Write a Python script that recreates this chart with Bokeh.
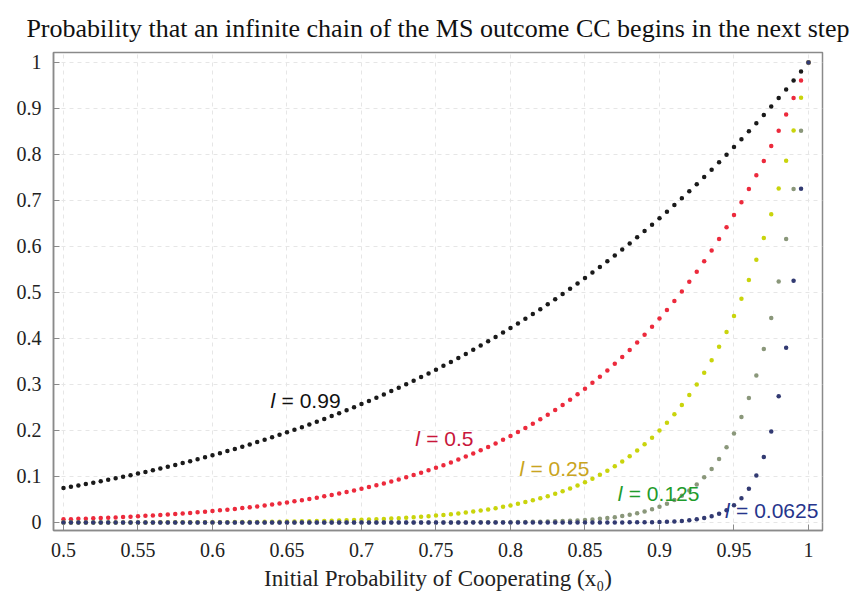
from bokeh.plotting import figure
from bokeh.models import Range1d, FixedTicker, CustomJSTickFormatter
from bokeh.core.properties import value
from bokeh.embed import file_html
from bokeh.resources import INLINE

x0 = [0.500, 0.505, 0.510, 0.515, 0.520, 0.525, 0.530, 0.535, 0.540, 0.545,
      0.550, 0.555, 0.560, 0.565, 0.570, 0.575, 0.580, 0.585, 0.590, 0.595,
      0.600, 0.605, 0.610, 0.615, 0.620, 0.625, 0.630, 0.635, 0.640, 0.645,
      0.650, 0.655, 0.660, 0.665, 0.670, 0.675, 0.680, 0.685, 0.690, 0.695,
      0.700, 0.705, 0.710, 0.715, 0.720, 0.725, 0.730, 0.735, 0.740, 0.745,
      0.750, 0.755, 0.760, 0.765, 0.770, 0.775, 0.780, 0.785, 0.790, 0.795,
      0.800, 0.805, 0.810, 0.815, 0.820, 0.825, 0.830, 0.835, 0.840, 0.845,
      0.850, 0.855, 0.860, 0.865, 0.870, 0.875, 0.880, 0.885, 0.890, 0.895,
      0.900, 0.905, 0.910, 0.915, 0.920, 0.925, 0.930, 0.935, 0.940, 0.945,
      0.950, 0.955, 0.960, 0.965, 0.970, 0.975, 0.980, 0.985, 0.990, 0.995,
      1.000]

l_099 = [0.0750, 0.0778, 0.0806, 0.0836, 0.0866, 0.0897, 0.0928, 0.0961, 0.0994, 0.1028,
         0.1063, 0.1099, 0.1136, 0.1173, 0.1212, 0.1251, 0.1291, 0.1333, 0.1375, 0.1418,
         0.1462, 0.1507, 0.1553, 0.1600, 0.1648, 0.1698, 0.1748, 0.1799, 0.1852, 0.1905,
         0.1960, 0.2016, 0.2073, 0.2131, 0.2191, 0.2251, 0.2313, 0.2377, 0.2441, 0.2507,
         0.2574, 0.2642, 0.2712, 0.2783, 0.2856, 0.2930, 0.3005, 0.3082, 0.3161, 0.3241,
         0.3322, 0.3405, 0.3490, 0.3576, 0.3664, 0.3754, 0.3845, 0.3938, 0.4033, 0.4129,
         0.4227, 0.4327, 0.4429, 0.4533, 0.4638, 0.4746, 0.4855, 0.4967, 0.5081, 0.5196,
         0.5314, 0.5434, 0.5556, 0.5680, 0.5806, 0.5935, 0.6066, 0.6199, 0.6335, 0.6473,
         0.6613, 0.6756, 0.6902, 0.7050, 0.7200, 0.7354, 0.7510, 0.7669, 0.7830, 0.7994,
         0.8161, 0.8331, 0.8504, 0.8680, 0.8859, 0.9041, 0.9226, 0.9415, 0.9606, 0.9802,
         1.0]

l_05 = [0.0068, 0.0073, 0.0079, 0.0084, 0.0090, 0.0097, 0.0104, 0.0111, 0.0118, 0.0126,
        0.0135, 0.0144, 0.0153, 0.0163, 0.0173, 0.0184, 0.0196, 0.0208, 0.0221, 0.0234,
        0.0249, 0.0264, 0.0279, 0.0296, 0.0313, 0.0331, 0.0350, 0.0370, 0.0391, 0.0413,
        0.0436, 0.0460, 0.0485, 0.0511, 0.0539, 0.0568, 0.0598, 0.0629, 0.0662, 0.0696,
        0.0732, 0.0770, 0.0809, 0.0850, 0.0892, 0.0937, 0.0983, 0.1031, 0.1082, 0.1134,
        0.1189, 0.1246, 0.1305, 0.1367, 0.1432, 0.1499, 0.1569, 0.1642, 0.1718, 0.1797,
        0.1879, 0.1965, 0.2054, 0.2146, 0.2243, 0.2343, 0.2448, 0.2556, 0.2669, 0.2787,
        0.2909, 0.3036, 0.3168, 0.3306, 0.3449, 0.3597, 0.3752, 0.3913, 0.4080, 0.4253,
        0.4434, 0.4622, 0.4817, 0.5020, 0.5231, 0.5450, 0.5678, 0.5915, 0.6162, 0.6418,
        0.6684, 0.6961, 0.7249, 0.7548, 0.7859, 0.8182, 0.8518, 0.8867, 0.9230, 0.9608,
        1.0]

l_025 = [0.0000, 0.0001, 0.0001, 0.0001, 0.0001, 0.0001, 0.0001, 0.0001, 0.0001, 0.0002,
         0.0002, 0.0002, 0.0002, 0.0003, 0.0003, 0.0003, 0.0004, 0.0004, 0.0005, 0.0006,
         0.0006, 0.0007, 0.0008, 0.0009, 0.0010, 0.0012, 0.0013, 0.0014, 0.0016, 0.0018,
         0.0020, 0.0022, 0.0025, 0.0028, 0.0031, 0.0034, 0.0038, 0.0042, 0.0047, 0.0052,
         0.0057, 0.0063, 0.0070, 0.0077, 0.0085, 0.0094, 0.0103, 0.0113, 0.0125, 0.0137,
         0.0150, 0.0165, 0.0181, 0.0198, 0.0217, 0.0238, 0.0260, 0.0285, 0.0311, 0.0340,
         0.0372, 0.0406, 0.0443, 0.0483, 0.0526, 0.0573, 0.0625, 0.0680, 0.0740, 0.0805,
         0.0876, 0.0953, 0.1036, 0.1126, 0.1223, 0.1328, 0.1442, 0.1566, 0.1700, 0.1844,
         0.2001, 0.2171, 0.2355, 0.2554, 0.2769, 0.3002, 0.3254, 0.3527, 0.3823, 0.4143,
         0.4489, 0.4864, 0.5271, 0.5710, 0.6187, 0.6703, 0.7261, 0.7866, 0.8521, 0.9231,
         1.0]

l_0125 = [0.0000, 0.0000, 0.0000, 0.0000, 0.0000, 0.0000, 0.0000, 0.0000, 0.0000, 0.0000,
          0.0000, 0.0000, 0.0000, 0.0000, 0.0000, 0.0000, 0.0000, 0.0000, 0.0000, 0.0000,
          0.0000, 0.0000, 0.0000, 0.0000, 0.0000, 0.0000, 0.0000, 0.0000, 0.0000, 0.0000,
          0.0000, 0.0000, 0.0000, 0.0000, 0.0000, 0.0000, 0.0000, 0.0000, 0.0000, 0.0000,
          0.0000, 0.0000, 0.0000, 0.0000, 0.0000, 0.0000, 0.0000, 0.0001, 0.0001, 0.0001,
          0.0001, 0.0001, 0.0002, 0.0002, 0.0002, 0.0003, 0.0004, 0.0004, 0.0005, 0.0006,
          0.0008, 0.0010, 0.0012, 0.0014, 0.0017, 0.0021, 0.0026, 0.0031, 0.0038, 0.0046,
          0.0055, 0.0067, 0.0080, 0.0096, 0.0116, 0.0139, 0.0167, 0.0201, 0.0240, 0.0287,
          0.0343, 0.0410, 0.0489, 0.0583, 0.0694, 0.0825, 0.0981, 0.1164, 0.1381, 0.1636,
          0.1937, 0.2291, 0.2708, 0.3198, 0.3773, 0.4448, 0.5239, 0.6165, 0.7250, 0.8518,
          1.0]

l_00625 = [0.0000, 0.0000, 0.0000, 0.0000, 0.0000, 0.0000, 0.0000, 0.0000, 0.0000, 0.0000,
           0.0000, 0.0000, 0.0000, 0.0000, 0.0000, 0.0000, 0.0000, 0.0000, 0.0000, 0.0000,
           0.0000, 0.0000, 0.0000, 0.0000, 0.0000, 0.0000, 0.0000, 0.0000, 0.0000, 0.0000,
           0.0000, 0.0000, 0.0000, 0.0000, 0.0000, 0.0000, 0.0000, 0.0000, 0.0000, 0.0000,
           0.0000, 0.0000, 0.0000, 0.0000, 0.0000, 0.0000, 0.0000, 0.0000, 0.0000, 0.0000,
           0.0000, 0.0000, 0.0000, 0.0000, 0.0000, 0.0000, 0.0000, 0.0000, 0.0000, 0.0000,
           0.0000, 0.0000, 0.0000, 0.0000, 0.0000, 0.0000, 0.0000, 0.0000, 0.0000, 0.0000,
           0.0000, 0.0000, 0.0001, 0.0001, 0.0001, 0.0002, 0.0003, 0.0004, 0.0006, 0.0008,
           0.0012, 0.0017, 0.0024, 0.0034, 0.0048, 0.0068, 0.0096, 0.0136, 0.0191, 0.0268,
           0.0375, 0.0525, 0.0733, 0.1023, 0.1424, 0.1978, 0.2745, 0.3801, 0.5256, 0.7256,
           1.0]

x_ticks = [0.5, 0.55, 0.6, 0.65, 0.7, 0.75, 0.8, 0.85, 0.9, 0.95, 1.0]
y_ticks = [0.0, 0.1, 0.2, 0.3, 0.4, 0.5, 0.6, 0.7, 0.8, 0.9, 1.0]

series = [
    (l_099, "#1a1a1a"),
    (l_05, "#ec2a3c"),
    (l_025, "#c9d40c"),
    (l_0125, "#8a977a"),
    (l_00625, "#323a72"),
]

labels = [
    ("0.99", 0.639, 0.265, "#111111"),
    ("0.5", 0.736, 0.182, "#c8163a"),
    ("0.25", 0.806, 0.118, "#c9a420"),
    ("0.125", 0.872, 0.064, "#1f9c2c"),
    ("0.0625", 0.944, 0.026, "#26358c"),
]

p = figure(width=858, height=596, output_backend="svg", toolbar_location=None,
           x_range=Range1d(0.4933, 1.0094), y_range=Range1d(-0.0174, 1.0217),
           min_border_left=53, min_border_right=36, min_border_bottom=66,
           min_border_top=52)

p.title.text = "Probability that an infinite chain of the MS outcome CC begins in the next step"
p.title.text_font = "Liberation Serif"
p.title.text_font_size = "26px"
p.title.text_font_style = "normal"
p.title.align = "center"
p.title.text_color = "#111111"
p.title.standoff = 20

fmt = CustomJSTickFormatter(code="""
let s = tick.toFixed(3);
s = s.replace(/0+$/, '').replace(/\\.$/, '');
return s;
""")

for ax, ticks in ((p.xaxis[0], x_ticks), (p.yaxis[0], y_ticks)):
    ax.ticker = FixedTicker(ticks=ticks)
    ax.formatter = fmt
    ax.major_label_text_font = "Liberation Serif"
    ax.major_label_text_font_size = "20px"
    ax.major_label_text_color = "#222222"
    ax.major_tick_in = 6
    ax.major_tick_out = 0
    ax.minor_tick_line_color = None
    ax.axis_line_color = "#8a8a8a"
    ax.axis_line_width = 1.5
    ax.major_tick_line_color = "#8a8a8a"

p.yaxis[0].major_label_standoff = 12
p.xaxis[0].major_label_standoff = 12
p.xaxis[0].axis_label = "Initial Probability of Cooperating (x\u2080)"
p.xaxis[0].axis_label_text_font = "Liberation Serif"
p.xaxis[0].axis_label_text_font_size = "23px"
p.xaxis[0].axis_label_text_font_style = "normal"
p.xaxis[0].axis_label_text_color = "#222222"
p.xaxis[0].axis_label_standoff = 6

p.xgrid.ticker = FixedTicker(ticks=x_ticks)
p.ygrid.ticker = FixedTicker(ticks=y_ticks)
p.grid.grid_line_color = "#e6e6e6"
p.grid.grid_line_dash = "4 4"
p.grid.grid_line_width = 1

p.outline_line_color = "#8a8a8a"
p.outline_line_width = 1.5
p.background_fill_color = "white"
p.border_fill_color = "white"

for ys, col in series:
    p.scatter(x0, ys, size=4.5, marker="circle", fill_color=col, line_color=None)

for txt, lx, ly, col in labels:
    p.text([lx], [ly], text=["l"], text_font=value("Liberation Sans"),
           text_font_style="italic", text_font_size="21px", text_color=col,
           text_align="left", text_baseline="middle")
    p.text([lx], [ly], text=["= " + txt], text_font=value("Liberation Sans"),
           text_font_size="21px", text_color=col, x_offset=11,
           text_align="left", text_baseline="middle")

open("out.html", "w").write(file_html(p, INLINE))
